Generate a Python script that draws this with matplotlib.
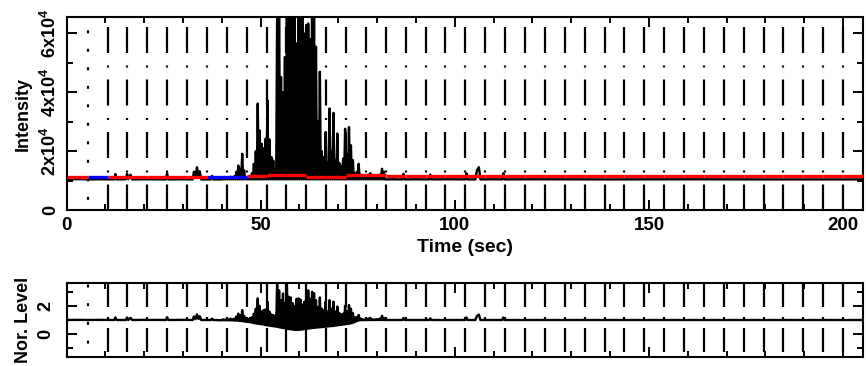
import numpy as np
import matplotlib
matplotlib.use("Agg")
import matplotlib.pyplot as plt

plt.rcParams['font.family'] = ['Liberation Sans', 'DejaVu Sans']
plt.rcParams['font.weight'] = 'bold'
plt.rcParams['mathtext.fontset'] = 'custom'
plt.rcParams['mathtext.rm'] = 'Liberation Sans:bold'
plt.rcParams['mathtext.bf'] = 'Liberation Sans:bold'
plt.rcParams['mathtext.it'] = 'Liberation Sans:bold'
plt.rcParams['mathtext.default'] = 'bf'
plt.rcParams['lines.scale_dashes'] = False

# ---------------- data ----------------
# segment boundaries (reference level is computed per 5.12 s segment)
seg_start = 5.44
seg_len = 5.12
n_seg = 38
t_end = 205.0

# reference level per piece: piece 0 = [0, seg_start], pieces 1..38 = segments, piece 39 = [200, 205]
ref_level = [11350, 11350, 11350, 11350, 11350, 11350, 11350, 11350, 11350, 11450,
             11900, 11900, 11100, 11100, 11800, 11800, 11450, 11450, 11450, 11450,
             11450, 11450, 11450, 11450, 11450, 11450, 11450, 11450, 11450, 11450,
             11450, 11450, 11450, 11450, 11450, 11450, 11450, 11450, 11450, 11450]
ref_blue = [1, 7, 8]

# quiet part before the burst
pre_t = [0.0, 3.0, 6.0, 9.0, 12.3, 12.6, 12.9, 15.3, 15.6, 15.9, 16.5, 16.9, 20.0,
         25.6, 25.9, 26.2, 30.0, 32.5, 32.8, 33.2, 33.6, 34.0, 34.3, 34.7, 37.2, 37.5, 37.8]
pre_int = [10400, 10500, 10400, 10450, 10400, 12250, 10400, 10450, 12300, 10500, 12000, 10400, 10450,
           10400, 12500, 10400, 10450, 10400, 13000, 11000, 14550, 11200, 13200, 10400, 10400, 11600, 10400]
pre_norm = [1.0, 1.01, 1.0, 1.01, 1.0, 1.18, 1.0, 1.0, 1.18, 1.0, 1.15, 1.0, 1.01,
            1.0, 1.2, 1.0, 1.01, 1.0, 1.25, 1.05, 1.4, 1.07, 1.27, 1.0, 1.0, 1.1, 1.0]

# burst 40-82 s: peak values at 40.25, 40.75, ... 81.75 ; troughs at 40.0, 40.5, ... 82.0
burst_t0 = 40.0
burst_half = 0.25
burst_peak_int = [11000, 10800, 11200, 11000, 11300, 11000, 11500, 13000, 15100, 14000,
                  19100, 13500, 11200, 11000, 11500, 12500, 15700, 20000, 36200, 27000,
                  22500, 21000, 24200, 37300, 24000, 18000, 16800, 13500, 68000, 70000,
                  45200, 40000, 52000, 70000, 72000, 70000, 75000, 68000, 56600, 70000,
                  72000, 70000, 60000, 62900, 63400, 58000, 72000, 70000, 55500, 30000,
                  47000, 20000, 18000, 26500, 16000, 34500, 20000, 33000, 17000, 26000,
                  16000, 15000, 17500, 27600, 19000, 28200, 22000, 17000, 12500, 13000,
                  15700, 12000, 11200, 11000, 11300, 12000, 12500, 11200, 11000, 11300,
                  11200, 12000, 14000, 13000]
burst_trough_int = 10400
burst_peak_norm = [1.05, 1.02, 1.08, 1.04, 1.1, 1.05, 1.1, 1.25, 1.45, 1.35,
                   1.7, 1.3, 1.1, 1.05, 1.15, 1.2, 1.45, 1.8, 2.53, 2.0,
                   1.6, 1.7, 1.75, 2.3, 1.6, 1.4, 1.35, 1.3, 3.8, 3.1,
                   2.4, 2.88, 2.2, 3.8, 2.65, 2.6, 2.2, 2.0, 2.5, 2.53,
                   2.45, 2.1, 2.3, 2.76, 3.1, 2.5, 3.0, 2.9, 2.41, 1.9,
                   2.6, 1.8, 1.7, 2.3, 1.6, 2.41, 1.8, 2.3, 1.6, 1.95,
                   1.5, 1.4, 1.45, 2.0, 1.6, 2.06, 1.8, 1.5, 1.2, 1.2,
                   1.36, 1.1, 1.05, 1.03, 1.06, 1.1, 1.15, 1.05, 1.03, 1.05,
                   1.05, 1.1, 1.3, 1.15]
burst_trough_norm = [0.98, 0.98, 0.97, 0.97, 0.97, 0.97, 0.96, 0.95, 0.95, 0.93,
                     0.92, 0.9, 0.88, 0.86, 0.84, 0.82, 0.79, 0.76, 0.74, 0.72,
                     0.7, 0.68, 0.65, 0.62, 0.6, 0.58, 0.56, 0.54, 0.52, 0.49,
                     0.46, 0.44, 0.42, 0.39, 0.36, 0.34, 0.32, 0.3, 0.29, 0.29,
                     0.3, 0.31, 0.33, 0.35, 0.37, 0.39, 0.41, 0.43, 0.44, 0.46,
                     0.47, 0.48, 0.5, 0.51, 0.52, 0.54, 0.55, 0.57, 0.58, 0.6,
                     0.62, 0.64, 0.66, 0.68, 0.7, 0.72, 0.74, 0.77, 0.82, 0.88,
                     0.94, 0.97, 0.98, 0.98, 0.99, 0.99, 0.99, 0.99, 0.99, 0.99,
                     0.99, 0.99, 0.99, 0.99, 0.99]

# quiet part after the burst
post_t = [82.3, 84.0, 86.5, 86.8, 87.1, 90.0, 93.4, 93.7, 94.0, 98.0, 102.7, 103.0, 103.3,
          105.3, 105.7, 106.2, 106.6, 110.0, 112.2, 112.5, 112.8, 120.0, 140.0, 160.0, 180.0, 205.0]
post_int = [10400, 10450, 10400, 12300, 10400, 10450, 10400, 12000, 10400, 10450, 10400, 12500, 10400,
            10400, 13500, 14550, 10400, 10450, 10400, 12500, 10400, 10450, 10400, 10450, 10400, 10400]
post_norm = [1.0, 1.0, 1.0, 1.15, 1.0, 1.0, 1.0, 1.12, 1.0, 1.0, 1.0, 1.18, 1.0,
             1.0, 1.28, 1.38, 1.0, 1.0, 1.0, 1.18, 1.0, 1.0, 1.0, 1.0, 1.0, 1.0]

x_ticks = [0, 50, 100, 150, 200]
int_ticks = [0, 20000, 40000, 60000]
int_tick_labels = ["0", "2x10$^4$", "4x10$^4$", "6x10$^4$"]
norm_ticks = [0, 2]
norm_tick_labels = ["0", "2"]

# ---------------- assemble series ----------------
n_half = 2 * len(burst_peak_int) + 1
burst_t = [burst_t0 + burst_half * i for i in range(n_half)]
burst_int = [burst_peak_int[i // 2] if i % 2 else burst_trough_int for i in range(n_half)]
burst_norm = [burst_peak_norm[i // 2] if i % 2 else burst_trough_norm[i // 2] for i in range(n_half)]

t_all = np.array(pre_t + burst_t + post_t)
int_all = np.array(pre_int + burst_int + post_int)
norm_all = np.array(pre_norm + burst_norm + post_norm)

edges = [0.0] + [seg_start + seg_len * k for k in range(n_seg + 1)] + [t_end]

# ---------------- figure ----------------
W, H = 866, 366
fig = plt.figure(figsize=(W / 100, H / 100), dpi=100)

def fx(px):
    return px / W

def fy(py):
    return 1 - py / H

L, R = 66.5, 862.5
ax1 = fig.add_axes([fx(L), fy(210), fx(R) - fx(L), fy(16.7) - fy(210)])
ax2 = fig.add_axes([fx(L), fy(356.7), fx(R) - fx(L), fy(283.3) - fy(356.7)])

PT = 0.72  # px -> pt
FS = 13.5

def grid(ax, dashpat, dashoff, dotpat, dotoff):
    for k in range(n_seg + 1):
        x = seg_start + seg_len * k
        if k == 0:
            ls = (dotoff * PT, tuple(v * PT for v in dotpat))
        else:
            ls = (dashoff * PT, tuple(v * PT for v in dashpat))
        ax.axvline(x, ymin=1, ymax=0, color='black', lw=1.6, linestyle=ls, zorder=2,
                   solid_capstyle='butt', dash_capstyle='butt')

for ax in (ax1, ax2):
    ax.set_xlim(0, t_end)
    for s in ax.spines.values():
        s.set_linewidth(1.5)
    ax.tick_params(which='both', direction='in', top=True, right=True, width=1.4, labelsize=FS)
    ax.tick_params(which='major', length=7.2)
    ax.tick_params(which='minor', length=4.3)
    ax.set_xticks(x_ticks)
    ax.set_xticks(range(0, 206, 10), minor=True)

grid(ax1, (26, 12.5, 2, 12), 42.5, (3, 15.5), 5.2)
grid(ax2, (24, 10, 2, 9), 0, (3, 15.7), 17.2)

# top panel
ax1.plot(t_all, int_all, color='black', lw=1.7, zorder=3)
for i in range(len(edges) - 1):
    c = 'blue' if i in ref_blue else 'red'
    ax1.hlines(ref_level[i], edges[i], edges[i + 1], colors=c, lw=2.4, zorder=4)
ax1.set_ylim(0, 65700)
ax1.set_yticks(int_ticks)
ax1.set_yticks(range(0, 65001, 10000), minor=True)
ax1.set_yticklabels(int_tick_labels, rotation=90, va='center', fontsize=13)
ax1.set_xticklabels([str(v) for v in x_ticks])
ax1.tick_params(axis='x', pad=5)
ax1.tick_params(axis='y', pad=5)

# bottom panel
ax2.plot(t_all, norm_all, color='black', lw=1.7, zorder=3)
ax2.set_ylim(-1.6, 3.6)
ax2.set_yticks(norm_ticks)
ax2.set_yticks([-1, 1, 3], minor=True)
ax2.set_yticklabels(norm_tick_labels, rotation=90, va='center', fontsize=13)
ax2.tick_params(axis='y', pad=9)
ax2.set_xticklabels([])

fig.text(fx(465), fy(248), "Time (sec)", ha='center', va='center', fontsize=14, fontweight='bold')
fig.text(fx(23), fy(113.5), "Intensity", ha='center', va='center', rotation=90, fontsize=13, fontweight='bold')
fig.text(fx(23), fy(320), "Nor. Level", ha='center', va='center', rotation=90, fontsize=13, fontweight='bold')

fig.savefig("out.png", dpi=100)
